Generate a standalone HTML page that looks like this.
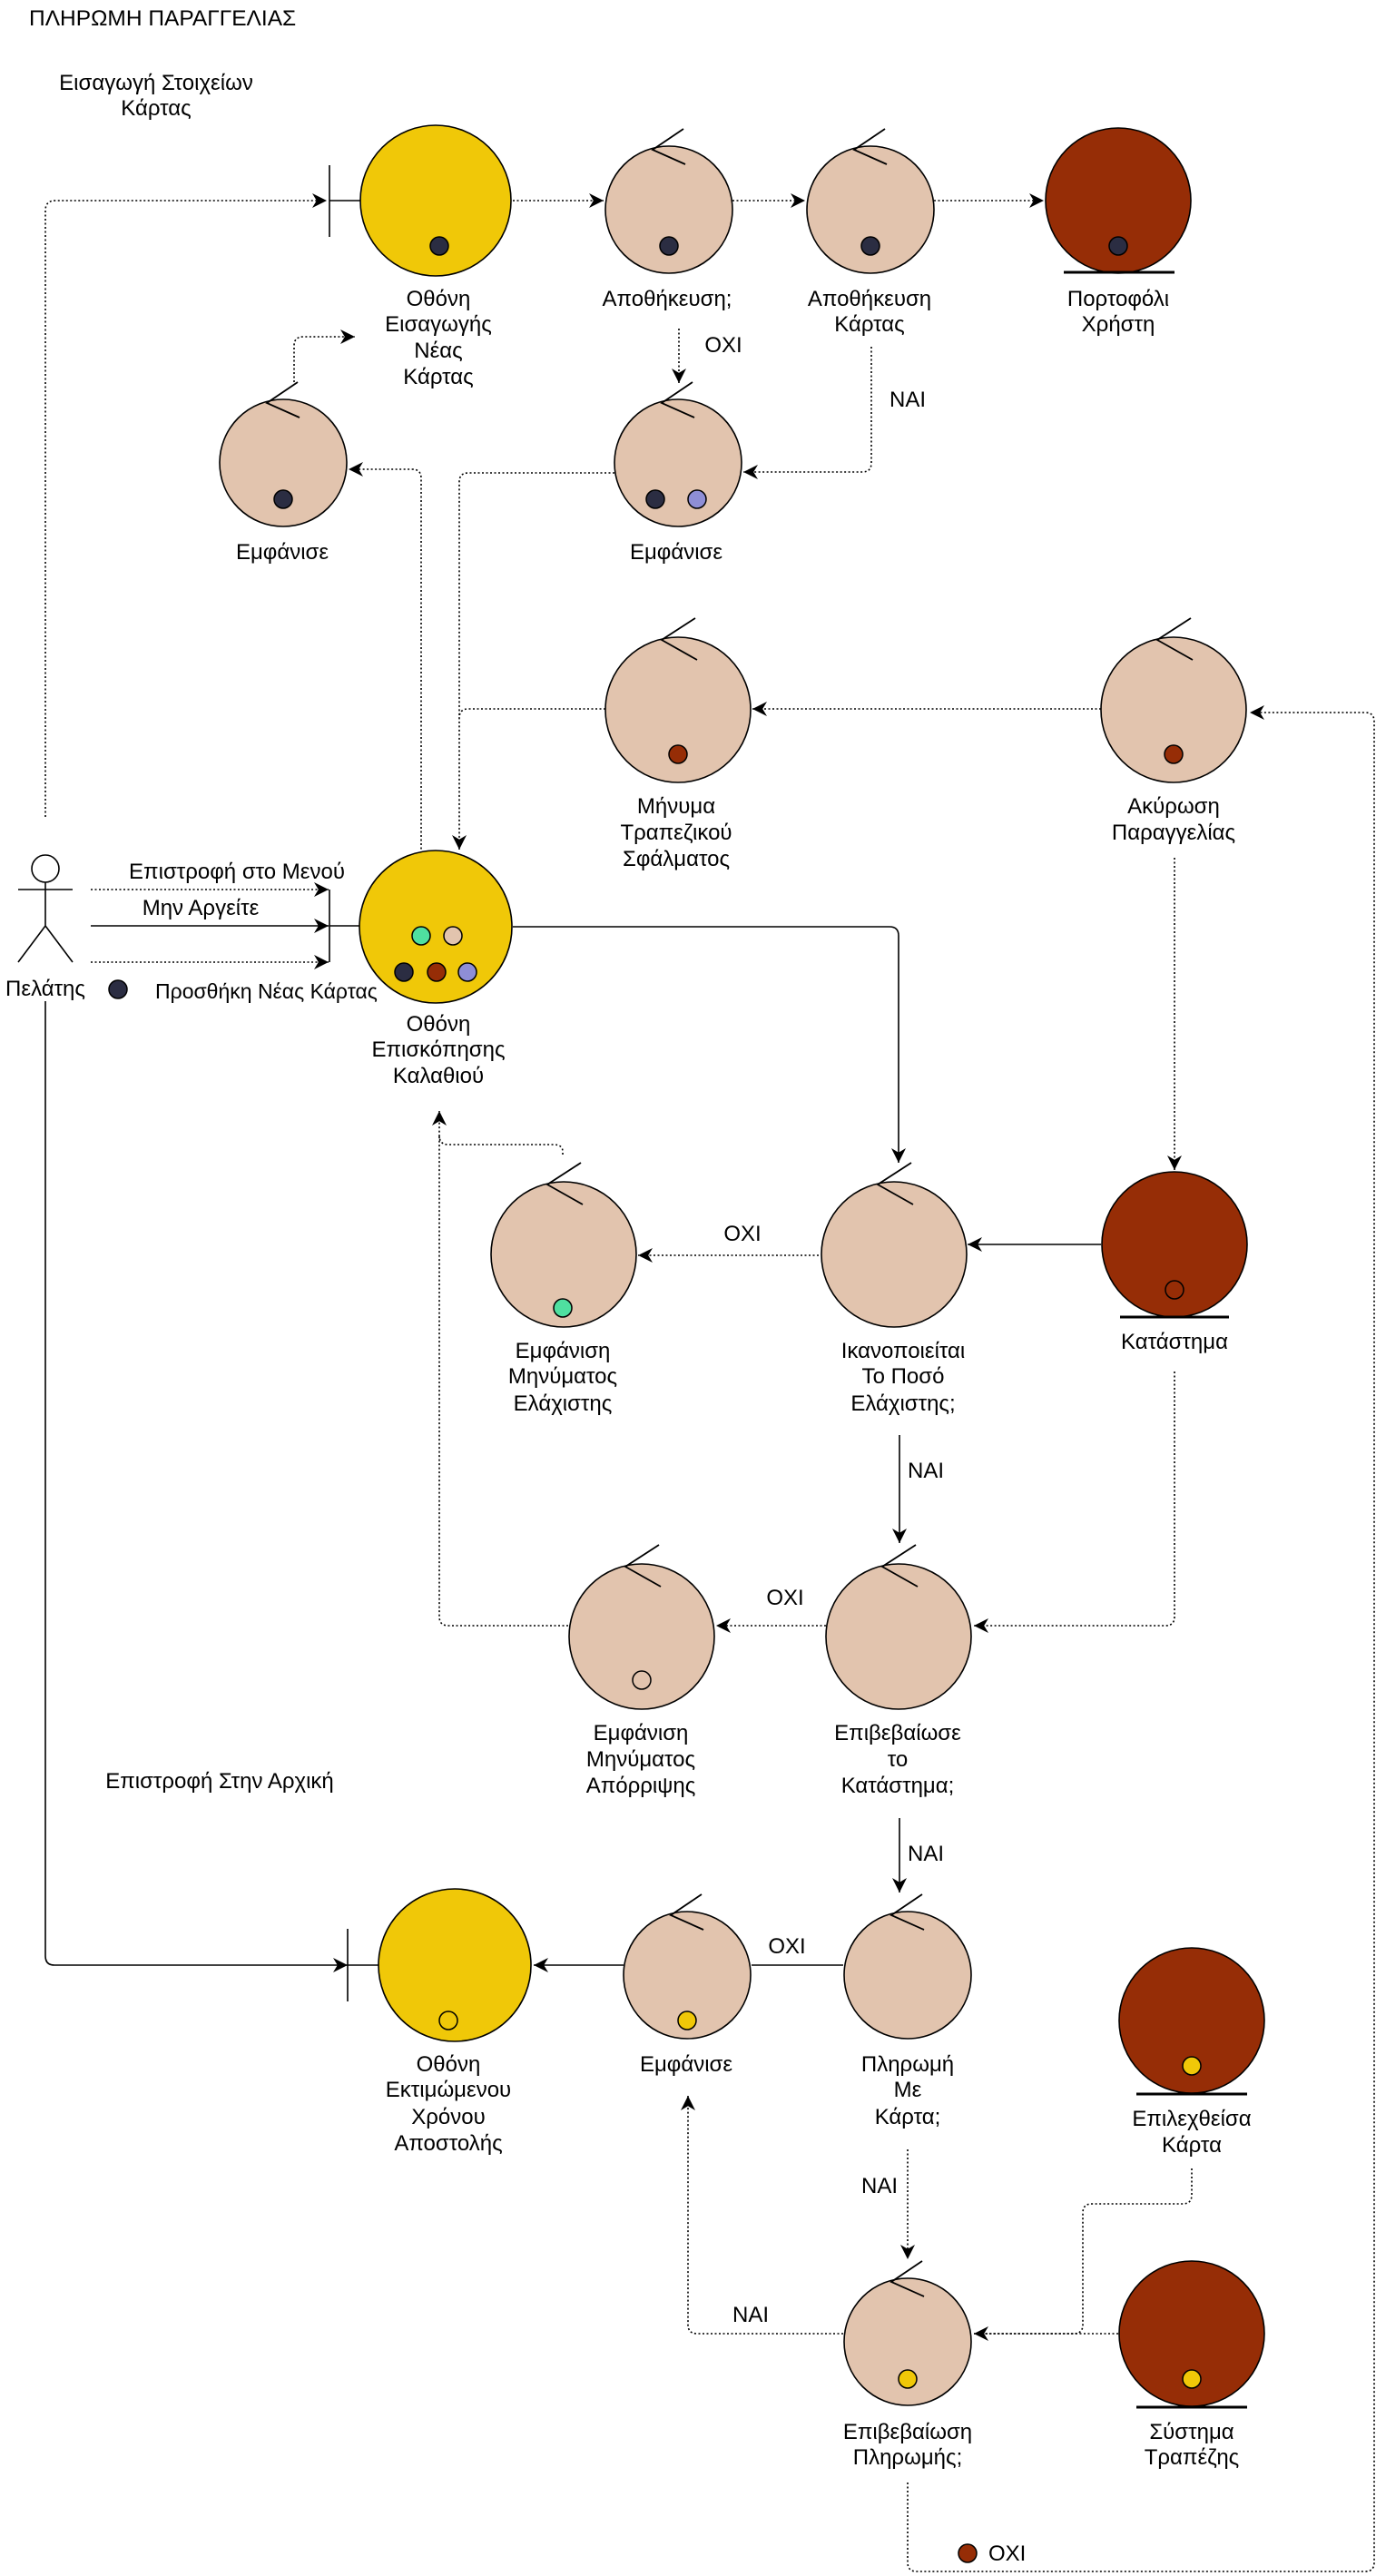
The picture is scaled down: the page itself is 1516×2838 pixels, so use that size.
<!DOCTYPE html>
<html><head><meta charset="utf-8"><style>
html,body{margin:0;padding:0;background:#fff;}
svg{display:block;}
text{font-family:"Liberation Sans",sans-serif;font-size:24px;fill:#000;}
</style></head><body>
<svg width="1516" height="2838" viewBox="0 0 1516 2838" xmlns="http://www.w3.org/2000/svg">
<defs>
<marker id="a" markerWidth="16" markerHeight="16" refX="10" refY="5" orient="auto" markerUnits="userSpaceOnUse" viewBox="0 0 10 10">
<path d="M0,0 L10,5 L0,10 L3,5 z" fill="#000"/>
</marker>
</defs>
<g fill="none" stroke="#000" stroke-width="1.6">
<g stroke-dasharray="2 2.5">
<path d="M50,900 L50,232 Q50,221 61,221 L360,221" marker-end="url(#a)"/>
<path d="M565,221 L665,221" marker-end="url(#a)"/>
<path d="M807,221 L887,221" marker-end="url(#a)"/>
<path d="M1029,221 L1150,221" marker-end="url(#a)"/>
<path d="M748,362 L748,422" marker-end="url(#a)"/>
<path d="M960,382 L960,510 Q960,520 950,520 L819,520" marker-end="url(#a)"/>
<path d="M677,521 L516,521 Q506,521 506,531 L506,936" marker-end="url(#a)"/>
<path d="M464,940 L464,527 Q464,517 454,517 L384,517" marker-end="url(#a)"/>
<path d="M324,421 L324,381 Q324,371 334,371 L391,371" marker-end="url(#a)"/>
<path d="M1213,781 L829,781" marker-end="url(#a)"/>
<path d="M667,781 L516,781 Q506,781 506,791"/>
<path d="M1000,2735 L1000,2823 Q1000,2833 1010,2833 L1504,2833 Q1514,2833 1514,2823 L1514,795 Q1514,785 1504,785 L1377,785" marker-end="url(#a)"/>
<path d="M1294,945 L1294,1289" marker-end="url(#a)"/>
<path d="M100,980 L362,980" marker-end="url(#a)"/>
<path d="M100,1060 L362,1060" marker-end="url(#a)"/>
<path d="M902,1383 L703,1383" marker-end="url(#a)"/>
<path d="M620,1272 L620,1269 Q620,1261 610,1261 L494,1261 Q484,1261 484,1251 L484,1224" marker-end="url(#a)"/>
<path d="M626,1791 L494,1791 Q484,1791 484,1781 L484,1251"/>
<path d="M1294,1511 L1294,1781 Q1294,1791 1284,1791 L1073,1791" marker-end="url(#a)"/>
<path d="M910,1791 L789,1791" marker-end="url(#a)"/>
<path d="M1000,2368 L1000,2489" marker-end="url(#a)"/>
<path d="M1313,2389 L1313,2418 Q1313,2428 1303,2428 L1203,2428 Q1193,2428 1193,2438 L1193,2561 Q1193,2571 1183,2571 L1073,2571" marker-end="url(#a)"/>
<path d="M1232,2571 L1073,2571"/>
<path d="M929,2571 L768,2571 Q758,2571 758,2561 L758,2309" marker-end="url(#a)"/>
</g>
<path d="M100,1020 L362,1020" marker-end="url(#a)"/>
<path d="M565,1021 L980,1021 Q990,1021 990,1031 L990,1281" marker-end="url(#a)"/>
<path d="M1213,1371 L1066,1371" marker-end="url(#a)"/>
<path d="M991,1581 L991,1700" marker-end="url(#a)"/>
<path d="M991,2003 L991,2085" marker-end="url(#a)"/>
<path d="M50,1103 L50,2155 Q50,2165 60,2165 L383,2165" marker-end="url(#a)"/>
<path d="M687,2165 L588,2165" marker-end="url(#a)"/>
<path d="M929,2165 L828,2165"/>
<path d="M363,182 L363,261 M363,221 L397,221"/>
<path d="M363,980 L363,1060 M363,1020 L396,1020"/>
<path d="M383,2125 L383,2205 M383,2165 L417,2165"/>
<circle cx="50" cy="957" r="15" fill="#fff"/>
<path d="M50,972 L50,1020 M20,980 L80,980 M50,1020 L20,1060 M50,1020 L80,1060"/>
</g>

<g stroke="#000" stroke-width="1.6">
<circle cx="480" cy="221" r="83" fill="#f0c808"/>
<circle cx="480" cy="1021" r="84" fill="#f0c808"/>
<circle cx="501" cy="2165" r="84" fill="#f0c808"/>
<circle cx="1232" cy="221" r="80" fill="#962d06"/>
<circle cx="1294" cy="1371" r="80" fill="#962d06"/>
<circle cx="1313" cy="2226" r="80" fill="#962d06"/>
<circle cx="1313" cy="2571" r="80" fill="#962d06"/>
</g>
<g stroke="#000" stroke-width="3">
<path d="M1172,300 L1294,300 M1234,1451 L1354,1451 M1252,2307 L1374,2307 M1252,2652 L1374,2652"/>
</g>

<g stroke="#000" stroke-width="1.6" fill="#e2c4ae">
<circle cx="737" cy="231" r="70"/><circle cx="959" cy="231" r="70"/>
<circle cx="312" cy="510" r="70"/><circle cx="747" cy="510" r="70"/>
<circle cx="747" cy="782" r="80"/><circle cx="1293" cy="782" r="80"/>
<circle cx="985" cy="1382" r="80"/><circle cx="621" cy="1382" r="80"/>
<circle cx="990" cy="1803" r="80"/><circle cx="707" cy="1803" r="80"/>
<circle cx="757" cy="2176" r="70"/><circle cx="1000" cy="2176" r="70"/>
<circle cx="1000" cy="2580" r="70"/>
</g>
<g stroke="#000" stroke-width="1.8" fill="none">
<path d="M753,142 L719,165 L755,181"/>
<path d="M975,142 L941,165 L977,181"/>
<path d="M328,421 L294,444 L330,460"/>
<path d="M763,421 L729,444 L765,460"/>
<path d="M766,681 L729,705 L768,727"/>
<path d="M1312,681 L1275,705 L1314,727"/>
<path d="M1004,1281 L967,1305 L1006,1327"/>
<path d="M640,1281 L603,1305 L642,1327"/>
<path d="M1009,1702 L972,1726 L1011,1748"/>
<path d="M726,1702 L689,1726 L728,1748"/>
<path d="M773,2087 L739,2110 L775,2126"/>
<path d="M1016,2087 L982,2110 L1018,2126"/>
<path d="M1016,2491 L982,2514 L1018,2530"/>
</g>

<g stroke="#000" stroke-width="1.5">
<circle cx="484" cy="271" r="10" fill="#2b2d42"/>
<circle cx="737" cy="271" r="10" fill="#2b2d42"/>
<circle cx="959" cy="271" r="10" fill="#2b2d42"/>
<circle cx="1232" cy="271" r="10" fill="#2b2d42"/>
<circle cx="312" cy="550" r="10" fill="#2b2d42"/>
<circle cx="722" cy="550" r="10" fill="#2b2d42"/>
<circle cx="768" cy="550" r="10" fill="#8e8ed6"/>
<circle cx="747" cy="831" r="10" fill="#962d06"/>
<circle cx="1293" cy="831" r="10" fill="#962d06"/>
<circle cx="464" cy="1031" r="10" fill="#4fe0a0"/>
<circle cx="499" cy="1031" r="10" fill="#e2c4ae"/>
<circle cx="445" cy="1071" r="10" fill="#2b2d42"/>
<circle cx="481" cy="1071" r="10" fill="#962d06"/>
<circle cx="515" cy="1071" r="10" fill="#8e8ed6"/>
<circle cx="130" cy="1090" r="10" fill="#2b2d42"/>
<circle cx="1294" cy="1421" r="10" fill="#962d06"/>
<circle cx="620" cy="1441" r="10" fill="#4fe0a0"/>
<circle cx="707" cy="1851" r="10" fill="#e2c4ae"/>
<circle cx="494" cy="2226" r="10" fill="#f0c808"/>
<circle cx="757" cy="2226" r="10" fill="#f0c808"/>
<circle cx="1313" cy="2276" r="10" fill="#f0c808"/>
<circle cx="1000" cy="2621" r="10" fill="#f0c808"/>
<circle cx="1313" cy="2621" r="10" fill="#f0c808"/>
<circle cx="1066" cy="2813" r="10" fill="#962d06"/>
</g>

<text x="32" y="28" style="font-size:24.5px">ΠΛΗΡΩΜΗ ΠΑΡΑΓΓΕΛΙΑΣ</text>
<g text-anchor="middle">
<text x="172" y="99">Εισαγωγή Στοιχείων</text>
<text x="172" y="127">Κάρτας</text>
<text x="483" y="337">Οθόνη</text><text x="483" y="365">Εισαγωγής</text><text x="483" y="394">Νέας</text><text x="483" y="423">Κάρτας</text>
<text x="735" y="337">Αποθήκευση;</text>
<text x="958" y="337">Αποθήκευση</text><text x="958" y="365">Κάρτας</text>
<text x="1232" y="337">Πορτοφόλι</text><text x="1232" y="365">Χρήστη</text>
<text x="797" y="388">ΟΧΙ</text>
<text x="1000" y="448">ΝΑΙ</text>
<text x="311" y="616">Εμφάνισε</text>
<text x="745" y="616">Εμφάνισε</text>
<text x="745" y="896">Μήνυμα</text><text x="745" y="925">Τραπεζικού</text><text x="745" y="954">Σφάλματος</text>
<text x="1293" y="896">Ακύρωση</text><text x="1293" y="925">Παραγγελίας</text>
<text x="261" y="968">Επιστροφή στο Μενού</text>
<text x="221" y="1008">Μην Αργείτε</text>
<text x="50" y="1097">Πελάτης</text>
<text x="483" y="1136">Οθόνη</text><text x="483" y="1164">Επισκόπησης</text><text x="483" y="1193">Καλαθιού</text>
<text x="818" y="1367">ΟΧΙ</text>
<text x="1294" y="1486">Κατάστημα</text>
<text x="620" y="1496">Εμφάνιση</text><text x="620" y="1524">Μηνύματος</text><text x="620" y="1554">Ελάχιστης</text>
<text x="995" y="1496">Ικανοποιείται</text><text x="995" y="1524">Το Ποσό</text><text x="995" y="1554">Ελάχιστης;</text>
<text x="1020" y="1628">ΝΑΙ</text>
<text x="865" y="1768">ΟΧΙ</text>
<text x="706" y="1917">Εμφάνιση</text><text x="706" y="1946">Μηνύματος</text><text x="706" y="1975">Απόρριψης</text>
<text x="989" y="1917">Επιβεβαίωσε</text><text x="989" y="1946">το</text><text x="989" y="1975">Κατάστημα;</text>
<text x="242" y="1970">Επιστροφή Στην Αρχική</text>
<text x="1020" y="2050">ΝΑΙ</text>
<text x="867" y="2152">ΟΧΙ</text>
<text x="494" y="2282">Οθόνη</text><text x="494" y="2310">Εκτιμώμενου</text><text x="494" y="2340">Χρόνου</text><text x="494" y="2369">Αποστολής</text>
<text x="756" y="2282">Εμφάνισε</text>
<text x="1000" y="2282">Πληρωμή</text><text x="1000" y="2310">Με</text><text x="1000" y="2340">Κάρτα;</text>
<text x="1313" y="2342">Επιλεχθείσα</text><text x="1313" y="2371">Κάρτα</text>
<text x="969" y="2416">ΝΑΙ</text>
<text x="827" y="2558">ΝΑΙ</text>
<text x="1000" y="2687">Επιβεβαίωση</text><text x="1000" y="2715">Πληρωμής;</text>
<text x="1313" y="2687">Σύστημα</text><text x="1313" y="2715">Τραπέζης</text>
</g>
<text x="171" y="1100" style="font-size:23px">Προσθήκη Νέας Κάρτας</text>
<text x="1089" y="2821">ΟΧΙ</text>
</svg>
</body></html>
